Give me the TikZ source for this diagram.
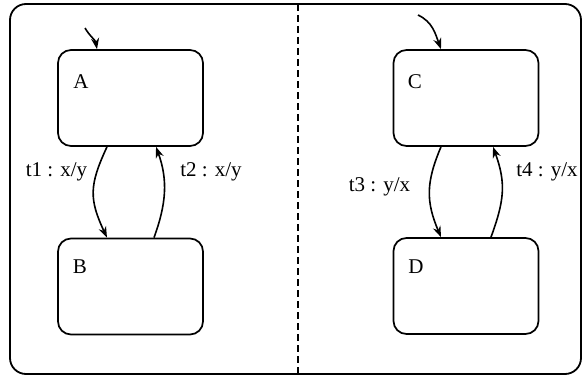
\documentclass[tikz,border=0pt]{standalone}
\usepackage{fontspec}
\setmainfont{Liberation Serif}
\usetikzlibrary{arrows.meta}
\begin{document}
\begin{tikzpicture}[x=1pt,y=1pt,
  font=\fontsize{21}{25}\selectfont,
  statebox/.style={draw,line width=1.7pt,rounded corners=13pt,minimum width=145pt,minimum height=96pt,inner sep=0pt},
  trans/.style={line width=1.6pt,-{Stealth[length=11pt,width=8pt]}},
  lbl/.style={inner sep=0pt,anchor=center}]
\useasboundingbox (0,0) rectangle (582,384);
\node[draw,line width=1.8pt,rounded corners=16pt,minimum width=571pt,minimum height=370pt,inner sep=0pt] (outer) at (295.5,195) {};
\coordinate (dtop) at (298,380);
\coordinate (dbot) at (298,10);
\draw[line width=1.7pt,dash pattern=on 7pt off 4pt] (dtop) -- (dbot);

\node[statebox] (A) at (130.5,286) {};
\node[statebox] (B) at (130.5,97.5) {};
\node[statebox] (C) at (466,286) {};
\node[statebox] (D) at (466,98) {};

\node[lbl] (Al) at (81,302) {A};
\node[lbl] (Bl) at (80,117) {B};
\node[lbl] (Cl) at (415,302) {C};
\node[lbl] (Dl) at (416,117) {D};

\coordinate (iA) at (85,356);
\coordinate (iC) at (418,369);
\draw[trans] (iA) to[out=-60,in=100] ([xshift=-33.5pt]A.north);
\draw[trans] (iC) to[out=-25,in=110] ([xshift=-25pt]C.north);

\draw[trans] ([xshift=-23.5pt]A.south) to[out=-115,in=115,looseness=1.2] ([xshift=-23.5pt]B.north);
\draw[trans] ([xshift=23.5pt]B.north) to[out=70,in=-70] ([xshift=25.5pt]A.south);
\draw[trans] ([xshift=-25pt]C.south) to[out=-113,in=113,looseness=1.1] ([xshift=-25pt]D.north);
\draw[trans] ([xshift=25pt]D.north) to[out=70,in=-70,looseness=1.1] ([xshift=27pt]C.south);

\node[lbl] (t1) at (56.5,212) {t1 : x/y};
\node[lbl] (t2) at (211,212) {t2 : x/y};
\node[lbl] (t3) at (379.5,197) {t3 : y/x};
\node[lbl] (t4) at (547,212) {t4 : y/x};
\end{tikzpicture}
\end{document}
